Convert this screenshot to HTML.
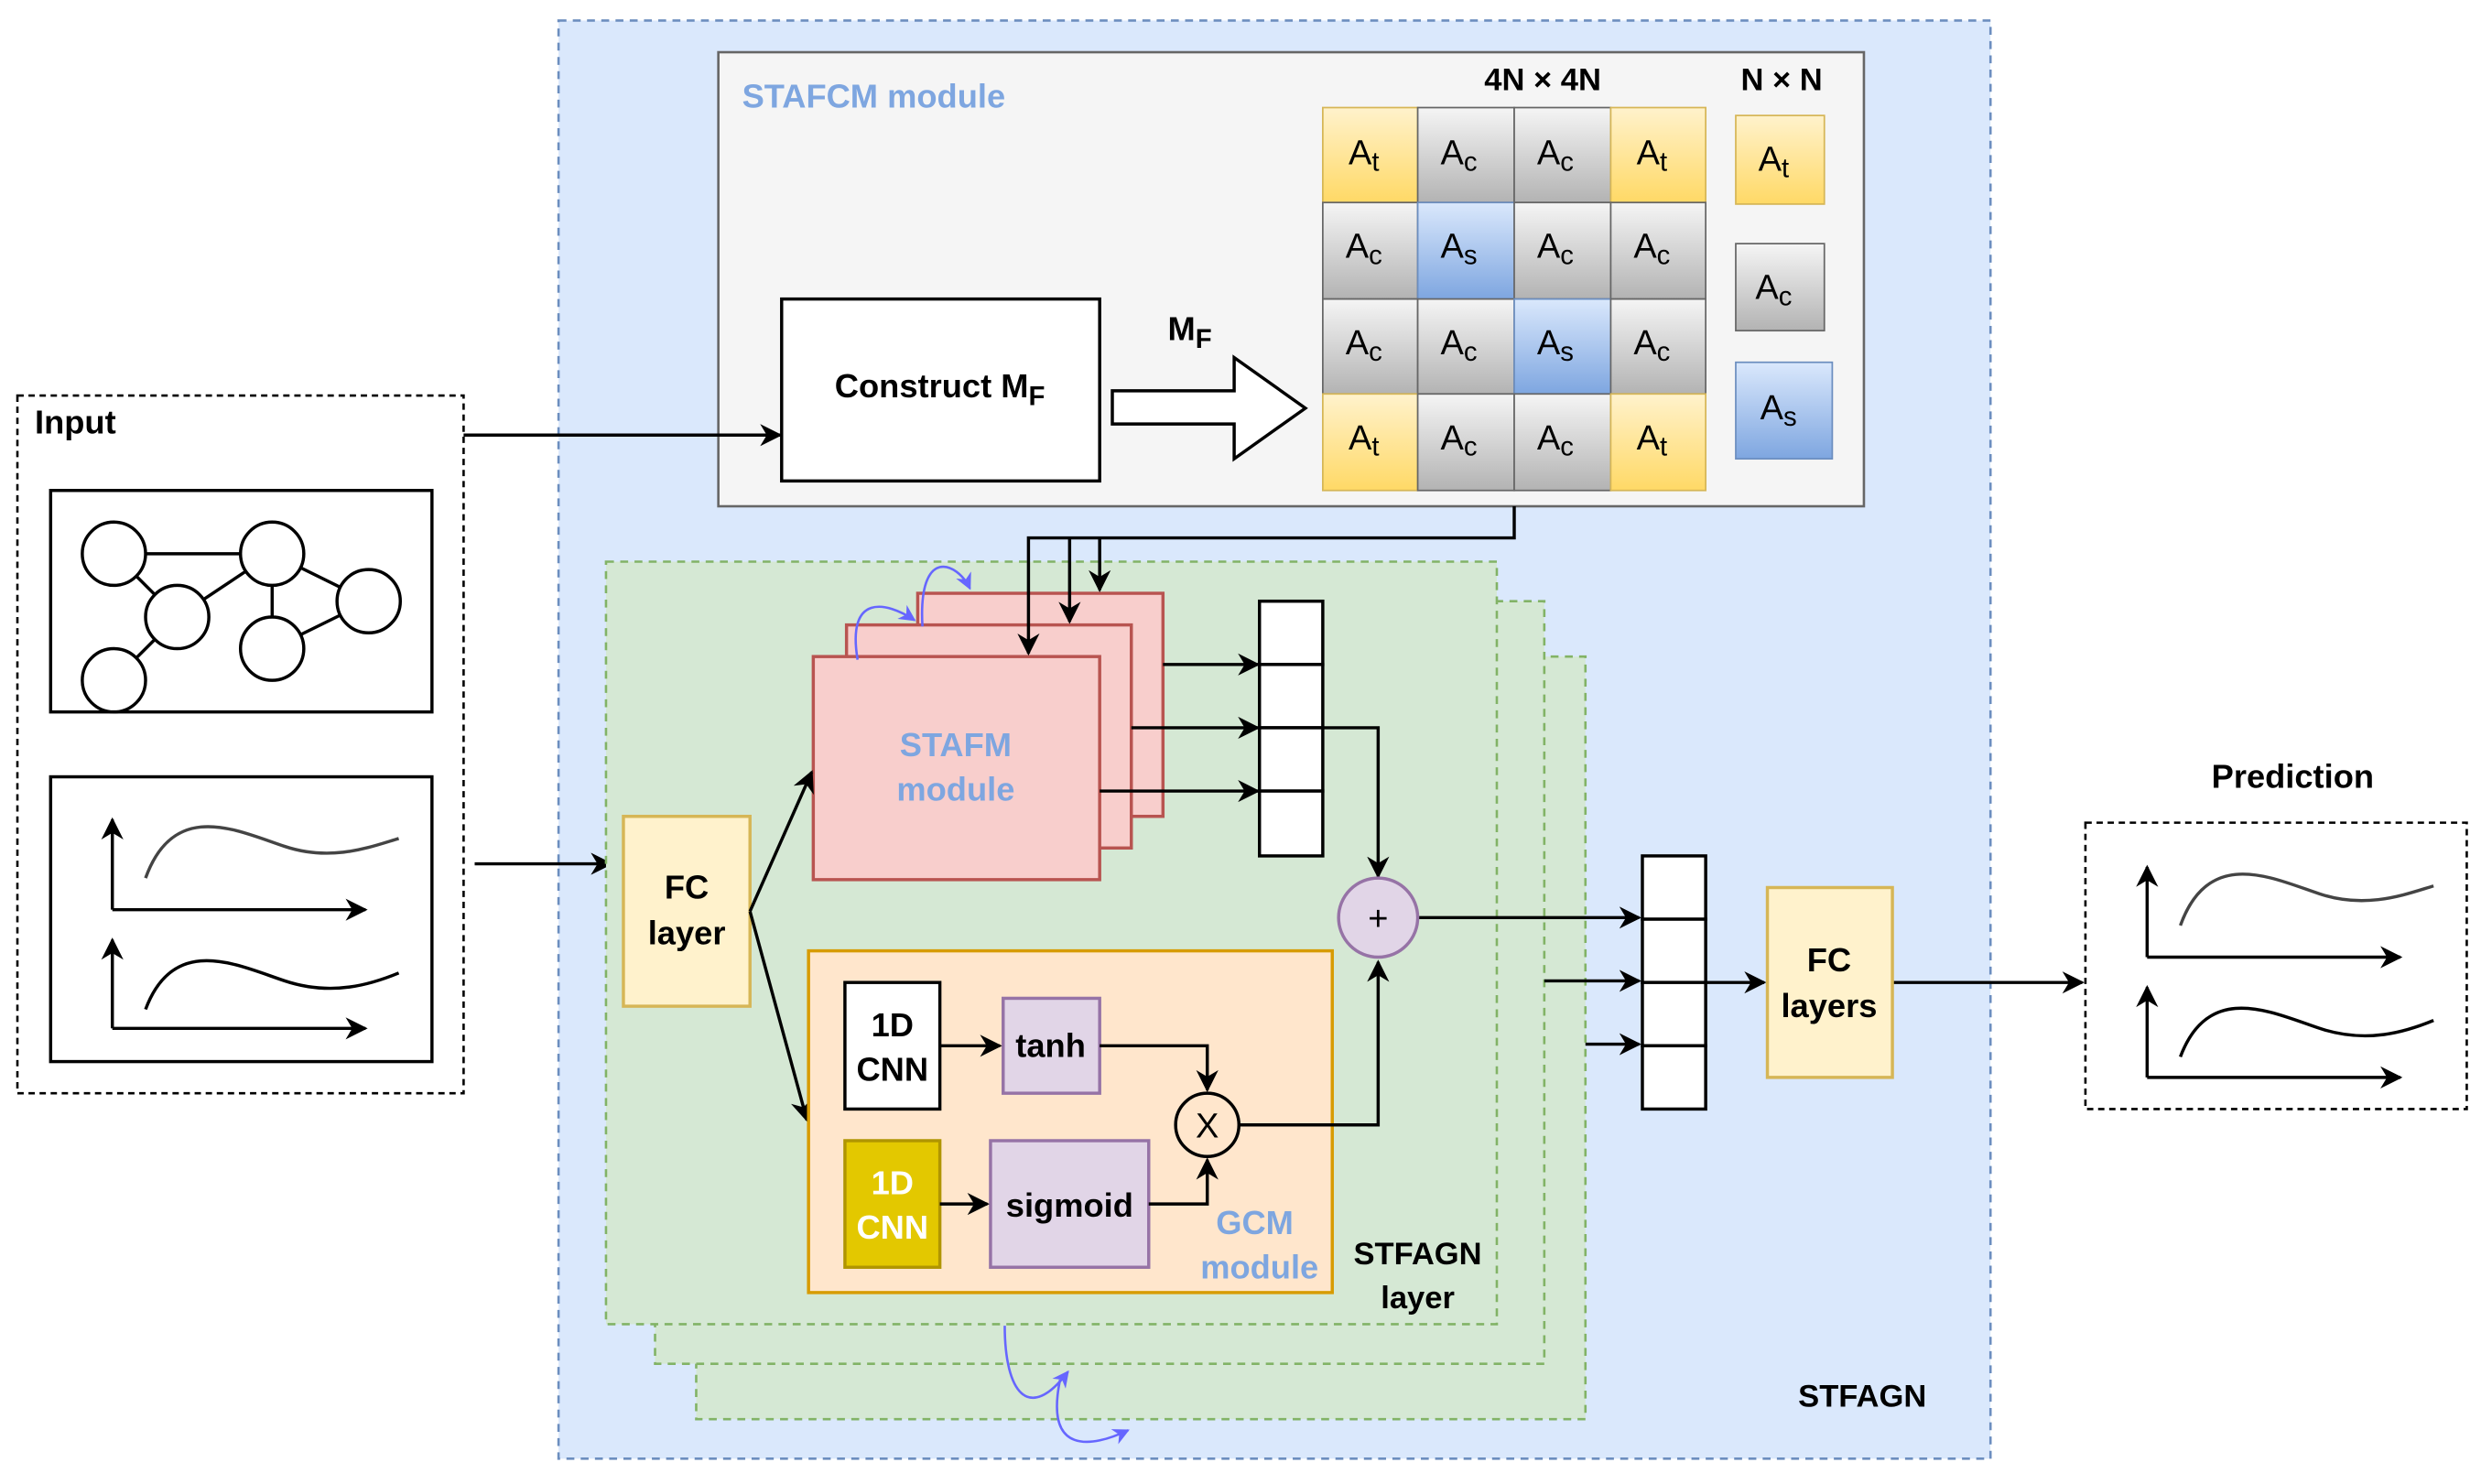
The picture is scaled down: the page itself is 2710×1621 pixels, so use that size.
<!DOCTYPE html>
<html><head><meta charset="utf-8"><style>html,body{margin:0;padding:0;background:#fff}svg{display:block}</style></head><body>
<svg width="2710" height="1621" viewBox="0 0 1568 938" preserveAspectRatio="none" xmlns="http://www.w3.org/2000/svg" font-family="Liberation Sans, sans-serif">
<defs>
<marker id="a" viewBox="0 0 10 10" refX="9" refY="5" markerWidth="7" markerHeight="7" orient="auto"><path d="M0,0 L10,5 L0,10 L3,5z" fill="#000"/></marker>
<marker id="b" viewBox="0 0 10 10" refX="9" refY="5" markerWidth="7" markerHeight="7" orient="auto"><path d="M0,0 L10,5 L0,10 L3,5z" fill="#6666ff"/></marker>
<linearGradient id="gy" x1="0" y1="0" x2="0" y2="1"><stop offset="0" stop-color="#fff2cc"/><stop offset="1" stop-color="#ffd966"/></linearGradient>
<linearGradient id="gg" x1="0" y1="0" x2="0" y2="1"><stop offset="0" stop-color="#f5f5f5"/><stop offset="1" stop-color="#b3b3b3"/></linearGradient>
<linearGradient id="gb" x1="0" y1="0" x2="0" y2="1"><stop offset="0" stop-color="#dae8fc"/><stop offset="1" stop-color="#7ea6e0"/></linearGradient>
</defs>
<!-- outer STFAGN -->
<rect x="353" y="13" width="905" height="909" fill="#dae8fc" stroke="#6c8ebf" stroke-width="1.5" stroke-dasharray="5,4"/>
<text x="1177" y="889" font-size="20" font-weight="bold" text-anchor="middle">STFAGN</text>
<!-- STAFCM -->
<rect x="454" y="33" width="724" height="287" fill="#f5f5f5" stroke="#666" stroke-width="1.5"/>
<text x="469" y="68" font-size="21" font-weight="bold" fill="#7ea6e0">STAFCM module</text>
<rect x="494" y="189" width="201" height="115" fill="#fff" stroke="#000" stroke-width="2"/>
<text x="594" y="251" font-size="21" font-weight="bold" text-anchor="middle">Construct M<tspan font-size="17" dy="5">F</tspan></text>
<text x="738" y="215" font-size="21" font-weight="bold">M<tspan font-size="17" dy="5">F</tspan></text>
<path d="M703,247 H780 V226 L825,258 L780,290 V268 H703 Z" fill="#fff" stroke="#000" stroke-width="2"/>
<text x="975" y="57" font-size="20" font-weight="bold" text-anchor="middle">4N × 4N</text>
<text x="1126" y="57" font-size="20" font-weight="bold" text-anchor="middle">N × N</text>
<g font-size="22" text-anchor="middle">
<g stroke="#666" stroke-width="1">
<rect x="836" y="68" width="60" height="60" fill="url(#gy)" stroke="#d6b656"/><rect x="896" y="68" width="61" height="60" fill="url(#gg)"/><rect x="957" y="68" width="61" height="60" fill="url(#gg)"/><rect x="1018" y="68" width="60" height="60" fill="url(#gy)" stroke="#d6b656"/>
<rect x="836" y="128" width="60" height="61" fill="url(#gg)"/><rect x="896" y="128" width="61" height="61" fill="url(#gb)" stroke="#6c8ebf"/><rect x="957" y="128" width="61" height="61" fill="url(#gg)"/><rect x="1018" y="128" width="60" height="61" fill="url(#gg)"/>
<rect x="836" y="189" width="60" height="60" fill="url(#gg)"/><rect x="896" y="189" width="61" height="60" fill="url(#gg)"/><rect x="957" y="189" width="61" height="60" fill="url(#gb)" stroke="#6c8ebf"/><rect x="1018" y="189" width="60" height="60" fill="url(#gg)"/>
<rect x="836" y="249" width="60" height="61" fill="url(#gy)" stroke="#d6b656"/><rect x="896" y="249" width="61" height="61" fill="url(#gg)"/><rect x="957" y="249" width="61" height="61" fill="url(#gg)"/><rect x="1018" y="249" width="60" height="61" fill="url(#gy)" stroke="#d6b656"/>
<rect x="1097" y="73" width="56" height="56" fill="url(#gy)" stroke="#d6b656"/>
<rect x="1097" y="154" width="56" height="55" fill="url(#gg)"/>
<rect x="1097" y="229" width="61" height="61" fill="url(#gb)" stroke="#6c8ebf"/>
</g>
<g>
<text x="862" y="104">A<tspan font-size="17" dy="4">t</tspan></text><text x="922" y="104">A<tspan font-size="17" dy="4">c</tspan></text><text x="983" y="104">A<tspan font-size="17" dy="4">c</tspan></text><text x="1044" y="104">A<tspan font-size="17" dy="4">t</tspan></text>
<text x="862" y="163">A<tspan font-size="17" dy="4">c</tspan></text><text x="922" y="163">A<tspan font-size="17" dy="4">s</tspan></text><text x="983" y="163">A<tspan font-size="17" dy="4">c</tspan></text><text x="1044" y="163">A<tspan font-size="17" dy="4">c</tspan></text>
<text x="862" y="224">A<tspan font-size="17" dy="4">c</tspan></text><text x="922" y="224">A<tspan font-size="17" dy="4">c</tspan></text><text x="983" y="224">A<tspan font-size="17" dy="4">s</tspan></text><text x="1044" y="224">A<tspan font-size="17" dy="4">c</tspan></text>
<text x="862" y="284">A<tspan font-size="17" dy="4">t</tspan></text><text x="922" y="284">A<tspan font-size="17" dy="4">c</tspan></text><text x="983" y="284">A<tspan font-size="17" dy="4">c</tspan></text><text x="1044" y="284">A<tspan font-size="17" dy="4">t</tspan></text>
<text x="1121" y="108">A<tspan font-size="17" dy="4">t</tspan></text>
<text x="1121" y="189">A<tspan font-size="17" dy="4">c</tspan></text>
<text x="1124" y="265">A<tspan font-size="17" dy="4">s</tspan></text>
</g></g>
<!-- Input -->
<rect x="11" y="250" width="282" height="441" fill="#fff" stroke="#000" stroke-width="1.5" stroke-dasharray="4,3"/>
<text x="22" y="274" font-size="21" font-weight="bold">Input</text>
<rect x="32" y="310" width="241" height="140" fill="#fff" stroke="#000" stroke-width="2"/>
<g stroke="#000" stroke-width="2" fill="none">
<line x1="72" y1="350" x2="172" y2="350"/><line x1="72" y1="350" x2="112" y2="390"/><line x1="112" y1="390" x2="172" y2="350"/><line x1="112" y1="390" x2="72" y2="430"/><line x1="172" y1="350" x2="172" y2="410"/><line x1="172" y1="350" x2="233" y2="380"/><line x1="172" y1="410" x2="233" y2="380"/>
</g>
<g fill="#fff" stroke="#000" stroke-width="2"><circle cx="72" cy="350" r="20"/><circle cx="172" cy="350" r="20"/><circle cx="112" cy="390" r="20"/><circle cx="233" cy="380" r="20"/><circle cx="172" cy="410" r="20"/><circle cx="72" cy="430" r="20"/></g>
<rect x="32" y="491" width="241" height="180" fill="#fff" stroke="#000" stroke-width="2"/>
<g stroke="#000" stroke-width="2" fill="none">
<path d="M71,575 V518" marker-end="url(#a)"/><path d="M71,575 H231" marker-end="url(#a)"/>
<path d="M92,555 C110,505 150,525 180,535 C210,545 235,535 252,530" stroke="#444"/>
<path d="M71,650 V594" marker-end="url(#a)"/><path d="M71,650 H231" marker-end="url(#a)"/>
<path d="M92,638 C110,590 150,610 180,620 C210,630 235,622 252,615"/>
</g>
<path d="M293,275 H493" stroke="#000" stroke-width="2" fill="none" marker-end="url(#a)"/>
<path d="M300,546 H386" stroke="#000" stroke-width="2" fill="none" marker-end="url(#a)"/>
<!-- green layers -->
<rect x="440" y="415" width="562" height="482" fill="#d5e8d4" stroke="#82b366" stroke-width="1.5" stroke-dasharray="5,4"/>
<rect x="414" y="380" width="562" height="482" fill="#d5e8d4" stroke="#82b366" stroke-width="1.5" stroke-dasharray="5,4"/>
<rect x="383" y="355" width="563" height="482" fill="#d5e8d4" stroke="#82b366" stroke-width="1.5" stroke-dasharray="5,4"/>
<text x="896" y="799" font-size="20" font-weight="bold" text-anchor="middle">STFAGN</text>
<text x="896" y="827" font-size="20" font-weight="bold" text-anchor="middle">layer</text>
<rect x="394" y="516" width="80" height="120" fill="#fff2cc" stroke="#d6b656" stroke-width="2"/>
<text x="434" y="568" font-size="21" font-weight="bold" text-anchor="middle">FC</text>
<text x="434" y="597" font-size="21" font-weight="bold" text-anchor="middle">layer</text>
<!-- STAFM -->
<g fill="#f8cecc" stroke="#b85450" stroke-width="2">
<rect x="580" y="375" width="155" height="141"/><rect x="535" y="395" width="180" height="141"/><rect x="514" y="415" width="181" height="141"/>
</g>
<text x="604" y="478" font-size="21" font-weight="bold" fill="#7ea6e0" text-anchor="middle">STAFM</text>
<text x="604" y="506" font-size="21" font-weight="bold" fill="#7ea6e0" text-anchor="middle">module</text>
<g stroke="#000" stroke-width="2" fill="none">
<path d="M957,320 V340 H650 V413" marker-end="url(#a)"/><path d="M676,340 V393" marker-end="url(#a)"/><path d="M695,340 V373" marker-end="url(#a)"/>
<path d="M474,576 L513,488" marker-end="url(#a)"/><path d="M474,576 L510,708" marker-end="url(#a)"/>
<path d="M735,420 H795" marker-end="url(#a)"/><path d="M715,460 H795" marker-end="url(#a)"/><path d="M695,500 H795" marker-end="url(#a)"/>
<path d="M836,460 H871 V554" marker-end="url(#a)"/>
</g>
<g stroke="#6666ff" stroke-width="1.5" fill="none">
<path d="M542,417 C535,375 560,380 578,392" marker-end="url(#b)"/>
<path d="M583,396 C580,345 605,355 613,372" marker-end="url(#b)"/>
<path d="M635,838 C635,880 650,900 675,867" marker-end="url(#b)"/>
<path d="M670,872 C660,920 690,915 713,904" marker-end="url(#b)"/>
</g>
<g fill="#fff" stroke="#000" stroke-width="2">
<rect x="796" y="380" width="40" height="40"/><rect x="796" y="420" width="40" height="40"/><rect x="796" y="460" width="40" height="40"/><rect x="796" y="500" width="40" height="41"/>
</g>
<!-- GCM -->
<rect x="511" y="601" width="331" height="216" fill="#ffe6cc" stroke="#d79b00" stroke-width="2"/>
<text x="793" y="780" font-size="21" font-weight="bold" fill="#7ea6e0" text-anchor="middle">GCM</text>
<text x="796" y="808" font-size="21" font-weight="bold" fill="#7ea6e0" text-anchor="middle">module</text>
<rect x="534" y="621" width="60" height="80" fill="#fff" stroke="#000" stroke-width="2"/>
<text x="564" y="655" font-size="21" font-weight="bold" text-anchor="middle">1D</text><text x="564" y="683" font-size="21" font-weight="bold" text-anchor="middle">CNN</text>
<rect x="534" y="721" width="60" height="80" fill="#e3c800" stroke="#b09500" stroke-width="2"/>
<text x="564" y="755" font-size="21" font-weight="bold" fill="#fff" text-anchor="middle">1D</text><text x="564" y="783" font-size="21" font-weight="bold" fill="#fff" text-anchor="middle">CNN</text>
<rect x="634" y="631" width="61" height="60" fill="#e1d5e7" stroke="#9673a6" stroke-width="2"/>
<text x="664" y="668" font-size="21" font-weight="bold" text-anchor="middle">tanh</text>
<rect x="626" y="721" width="100" height="80" fill="#e1d5e7" stroke="#9673a6" stroke-width="2"/>
<text x="676" y="769" font-size="21" font-weight="bold" text-anchor="middle">sigmoid</text>
<g stroke="#000" stroke-width="2" fill="none">
<path d="M594,661 H632" marker-end="url(#a)"/><path d="M594,761 H624" marker-end="url(#a)"/>
<path d="M695,661 H763 V689" marker-end="url(#a)"/><path d="M726,761 H763 V733" marker-end="url(#a)"/>
<path d="M783,711 H871 V608" marker-end="url(#a)"/>
<path d="M896,580 H1036" marker-end="url(#a)"/><path d="M976,620 H1036" marker-end="url(#a)"/><path d="M1002,660 H1036" marker-end="url(#a)"/>
<path d="M1078,621 H1115" marker-end="url(#a)"/><path d="M1196,621 H1316" marker-end="url(#a)"/>
</g>
<circle cx="763" cy="711" r="20" fill="#ffe6cc" stroke="#000" stroke-width="2"/>
<text x="763" y="719" font-size="22" text-anchor="middle">X</text>
<circle cx="871" cy="580" r="25" fill="#e1d5e7" stroke="#9673a6" stroke-width="2"/>
<text x="871" y="588" font-size="22" text-anchor="middle">+</text>
<g fill="#fff" stroke="#000" stroke-width="2">
<rect x="1038" y="541" width="40" height="40"/><rect x="1038" y="581" width="40" height="40"/><rect x="1038" y="621" width="40" height="40"/><rect x="1038" y="661" width="40" height="40"/>
</g>
<rect x="1117" y="561" width="79" height="120" fill="#fff2cc" stroke="#d6b656" stroke-width="2"/>
<text x="1156" y="614" font-size="21" font-weight="bold" text-anchor="middle">FC</text>
<text x="1156" y="643" font-size="21" font-weight="bold" text-anchor="middle">layers</text>
<!-- Prediction -->
<text x="1449" y="498" font-size="21" font-weight="bold" text-anchor="middle">Prediction</text>
<rect x="1318" y="520" width="241" height="181" fill="#fff" stroke="#000" stroke-width="1.5" stroke-dasharray="4,3"/>
<g stroke="#000" stroke-width="2" fill="none">
<path d="M1357,605 V548" marker-end="url(#a)"/><path d="M1357,605 H1517" marker-end="url(#a)"/>
<path d="M1378,585 C1396,535 1436,555 1466,565 C1496,575 1521,565 1538,560" stroke="#444"/>
<path d="M1357,681 V624" marker-end="url(#a)"/><path d="M1357,681 H1517" marker-end="url(#a)"/>
<path d="M1378,668 C1396,620 1436,640 1466,650 C1496,660 1521,652 1538,645"/>
</g>
</svg>
</body></html>
